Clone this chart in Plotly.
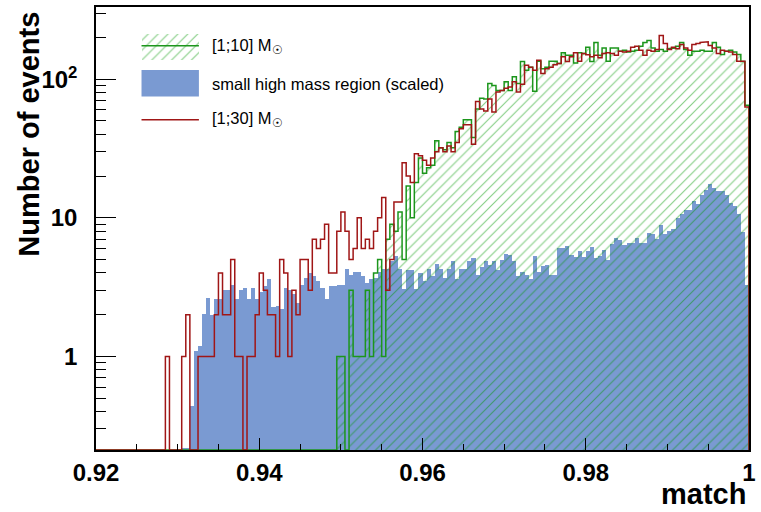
import numpy as np
import plotly.graph_objects as go

# ---- binning: 160 bins of width 0.0005 on [0.92, 1.0] ----
x_min, x_max = 0.92, 1.0
n_bins = 160

# events per bin, [1;30] Msun sample
counts_1_30 = [
    0, 0, 0, 0, 0, 0, 0, 0, 0, 0,
    0, 0, 0, 0, 0, 0, 0, 1, 0, 0,
    0, 1, 2, 0, 0, 1, 1, 1, 1, 2,
    4, 2, 2, 5, 1, 1, 0, 1, 1, 2,
    4, 3, 2, 2, 1, 5, 4, 1, 3, 2,
    5, 5, 3, 7, 6, 7, 9, 4, 4, 8,
    11, 8, 5, 6, 10, 6, 7, 6, 8, 10,
    14, 3, 5, 13, 13, 25, 20, 18, 29, 28,
    26, 24, 27, 30, 32, 30, 33, 30, 35, 44,
    47, 47, 34, 69, 61, 59, 72, 58, 81, 83,
    86, 88, 96, 81, 92, 126, 122, 116, 137, 110,
    119, 122, 127, 130, 145, 134, 145, 155, 135, 153,
    150, 145, 149, 143, 153, 155, 153, 149, 159, 157,
    159, 170, 173, 162, 149, 162, 159, 164, 207, 181,
    164, 170, 166, 178, 168, 162, 178, 181, 184, 186,
    175, 168, 153, 162, 159, 157, 151, 135, 135, 63,
]

# events per bin, [1;10] Msun sample
counts_1_10 = [
    0, 0, 0, 0, 0, 0, 0, 0, 0, 0,
    0, 0, 0, 0, 0, 0, 0, 0, 0, 0,
    0, 0, 0, 0, 0, 0, 0, 0, 0, 0,
    0, 0, 0, 0, 0, 0, 0, 0, 0, 0,
    0, 0, 0, 0, 0, 0, 0, 0, 0, 0,
    0, 0, 0, 0, 0, 0, 0, 0, 0, 1,
    1, 0, 3, 1, 1, 1, 3, 1, 4, 5,
    1, 7, 9, 8, 11, 5, 17, 10, 18, 27,
    21, 23, 24, 36, 32, 31, 35, 32, 42, 45,
    51, 51, 38, 61, 73, 72, 93, 90, 83, 83,
    96, 83, 104, 93, 134, 116, 122, 82, 135, 119,
    122, 135, 135, 130, 155, 149, 149, 131, 155, 153,
    170, 134, 184, 149, 168, 135, 168, 168, 159, 162,
    157, 159, 162, 173, 184, 190, 168, 159, 164, 159,
    166, 168, 173, 184, 164, 149, 159, 159, 162, 159,
    159, 184, 170, 151, 159, 162, 157, 151, 134, 65,
]

# scaled events per bin, small high mass region
counts_high_mass = [
    0, 0, 0, 0, 0, 0, 0, 0, 0, 0,
    0, 0, 0, 0, 0, 0, 0, 0, 0, 0,
    0, 0.22, 0.22, 0.44, 1.1, 1.18, 2.04, 2.64, 2.0, 2.6,
    2.6, 3.0, 3.0, 3.3, 2.6, 3.0, 3.1, 2.6, 3.1, 2.6,
    2.9, 3.2, 3.6, 2.26, 2.3, 2.2, 3.1, 3.0, 2.8, 2.45,
    3.3, 3.7, 4.0, 3.8, 3.5, 3.1, 2.6, 3.2, 3.2, 3.3,
    3.3, 4.3, 3.9, 4.1, 4.1, 3.8, 3.4, 3.6, 3.7, 4.1,
    4.25, 4.3, 4.9, 5.3, 4.3, 3.06, 4.2, 4.2, 3.06, 4.0,
    3.5, 4.25, 3.8, 4.67, 4.3, 3.7, 4.25, 4.9, 3.6, 4.25,
    4.3, 4.9, 5.1, 3.9, 4.45, 4.9, 4.6, 4.9, 4.2, 5.0,
    5.5, 5.4, 4.9, 3.8, 4.1, 3.9, 3.6, 5.3, 4.1, 4.5,
    4.6, 3.9, 3.9, 6.1, 6.1, 6.3, 5.4, 5.2, 5.8, 5.2,
    5.76, 6.2, 5.1, 5.3, 5.9, 4.95, 6.5, 7.1, 6.9, 6.4,
    6.6, 6.6, 7.1, 6.6, 6.6, 7.8, 7.6, 7.0, 8.95, 7.6,
    8.0, 8.3, 9.9, 10.7, 11.3, 11.3, 13.3, 12.5, 14.7, 15.9,
    17.4, 16.4, 15.7, 15.7, 14.7, 12.8, 12.1, 10.7, 7.9, 3.3,
]

x_tick_vals = [0.92, 0.94, 0.96, 0.98, 1.0]
x_tick_text = ["0.92", "0.94", "0.96", "0.98", "1"]
y_tick_vals = [1, 10, 100]
y_tick_text = ["1", "10", "10<sup>2</sup>"]
y_minor_vals = [0.3, 0.4, 0.5, 0.6, 0.7, 0.8, 0.9,
                2, 3, 4, 5, 6, 7, 8, 9,
                20, 30, 40, 50, 60, 70, 80, 90, 200, 300]

legend_labels = ["[1;10] M<sub>☉</sub>",
                 "small high mass region (scaled)",
                 "[1;30] M<sub>☉</sub>"]

# ---- styling ----
GREEN = "#1c961c"
HATCH = "rgba(0,150,0,0.95)"
BLUE = "#7a9ad2"
RED = "#a01616"
FONT = "Liberation Sans"

y_log_range = [-0.675, 2.521]
floor = 10 ** y_log_range[0]

edges = np.linspace(x_min, x_max, n_bins + 1)
bin_width = (x_max - x_min) / n_bins
centers = edges[:-1] + bin_width / 2


def step_outline(counts):
    """Histogram outline; empty bins sit on the bottom of the log axis."""
    xs, ys = [edges[0]], [floor]
    for i, c in enumerate(counts):
        v = c if c > 0 else floor
        xs += [edges[i], edges[i + 1]]
        ys += [v, v]
    xs.append(edges[-1])
    ys.append(floor)
    return xs, ys


fig = go.Figure()

# filled high-mass histogram
fig.add_trace(go.Bar(
    x=centers, y=counts_high_mass, width=bin_width,
    marker=dict(color=BLUE, line=dict(width=0)),
    showlegend=False, hoverinfo="skip",
))

# hatched [1;10] histogram
hatch = dict(shape="/", fgcolor=HATCH, bgcolor="rgba(0,0,0,0)",
             size=7, solidity=0.16, fillmode="overlay")
fig.add_trace(go.Bar(
    x=centers, y=counts_1_10, width=bin_width,
    marker=dict(color="rgba(0,0,0,0)", line=dict(width=0), pattern=hatch),
    showlegend=False, hoverinfo="skip",
))
gx, gy = step_outline(counts_1_10)
fig.add_trace(go.Scatter(x=gx, y=gy, mode="lines",
                         line=dict(color=GREEN, width=1.5),
                         showlegend=False, hoverinfo="skip"))

# [1;30] outline
rx, ry = step_outline(counts_1_30)
fig.add_trace(go.Scatter(x=rx, y=ry, mode="lines",
                         line=dict(color=RED, width=1.5),
                         showlegend=False, hoverinfo="skip"))

# ---- legend drawn inside the frame ----
lx0, lx1 = 0.0697, 0.1576
fig.add_trace(go.Bar(
    x=[(lx0 + lx1) / 2], y=[0.939 - 0.881], base=[0.881], width=[lx1 - lx0],
    marker=dict(color="rgba(0,0,0,0)", line=dict(width=0), pattern=hatch),
    xaxis="x2", yaxis="y2", showlegend=False, hoverinfo="skip",
))
fig.add_shape(type="line", xref="paper", yref="paper",
              x0=lx0, x1=lx1, y0=0.9124, y1=0.9124,
              line=dict(color=GREEN, width=1.5))
fig.add_shape(type="rect", xref="paper", yref="paper",
              x0=lx0, x1=lx1, y0=0.7978, y1=0.8578,
              fillcolor=BLUE, line=dict(width=0))
fig.add_shape(type="line", xref="paper", yref="paper",
              x0=lx0, x1=lx1, y0=0.7454, y1=0.7454,
              line=dict(color=RED, width=1.5))
for label, ypos in zip(legend_labels, [0.9124, 0.8270, 0.7483]):
    fig.add_annotation(text=label, xref="paper", yref="paper",
                       x=0.1753, y=ypos, xanchor="left", yanchor="middle",
                       showarrow=False,
                       font=dict(family=FONT, size=16.5, color="black"))

# axis titles
fig.add_annotation(text="Number of events", xref="paper", yref="paper",
                   x=-0.103, y=0.7135, xanchor="center", yanchor="middle",
                   textangle=-90, showarrow=False,
                   font=dict(family=FONT, size=29, color="black", weight="bold"))
fig.add_annotation(text="match", xref="paper", yref="paper",
                   x=0.9985, y=-0.099, xanchor="right", yanchor="middle",
                   showarrow=False,
                   font=dict(family=FONT, size=29, color="black", weight="bold"))

tick_font = dict(family=FONT, size=24, color="black", weight="bold")

fig.update_layout(
    width=761, height=512,
    margin=dict(l=96, r=5, t=5, b=62),
    paper_bgcolor="white", plot_bgcolor="white",
    barmode="overlay", bargap=0,
    xaxis=dict(
        range=[x_min, x_max], showgrid=False, zeroline=False,
        showline=True, linecolor="black", linewidth=1.5, mirror=True,
        tickmode="array", tickvals=x_tick_vals, ticktext=x_tick_text,
        ticks="inside", ticklen=12, tickcolor="black", tickwidth=1,
        tickfont=tick_font,
        minor=dict(tickmode="linear", tick0=x_min, dtick=0.005,
                   ticks="inside", ticklen=6, tickcolor="black", tickwidth=1),
    ),
    yaxis=dict(
        type="log", range=y_log_range, showgrid=False, zeroline=False,
        showline=True, linecolor="black", linewidth=1.5, mirror=True,
        tickmode="array", tickvals=y_tick_vals, ticktext=y_tick_text,
        ticks="inside", ticklen=20, tickcolor="black", tickwidth=1,
        tickfont=tick_font, ticklabelstandoff=12,
        minor=dict(tickmode="array", tickvals=y_minor_vals,
                   ticks="inside", ticklen=10, tickcolor="black", tickwidth=1),
    ),
    xaxis2=dict(overlaying="x", range=[0, 1], visible=False, anchor="y2"),
    yaxis2=dict(overlaying="y", range=[0, 1], visible=False, anchor="x2"),
    showlegend=False,
)

fig.write_html("out.html")
